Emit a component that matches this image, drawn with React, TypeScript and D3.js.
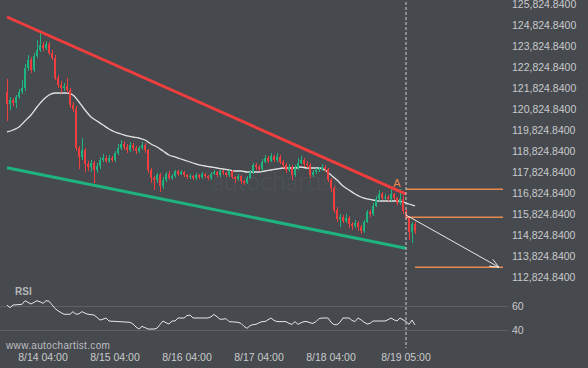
import * as d3 from "d3";

const W = 588;
const H = 368;
const HOUR = 3600e3;
const FONT = "'Liberation Sans', Arial, sans-serif";

// hourly candles, first one at 8/13 16:00 UTC
const firstCandle = Date.UTC(2025, 7, 13, 16);
const firstOpen = 121649;

const closes = [
  121077, 121268, 121125, 121411, 121649, 121839, 122792, 123172, 122696, 123363,
  123649, 123887, 123744, 123935, 123506, 123268, 122315, 121982, 121839, 121934,
  121744, 121030, 120839, 118982, 118553, 118887, 118220, 118077, 118268, 117935,
  118125, 118411, 118506, 118363, 118506, 118411, 118744, 118982, 119172, 119030,
  118887, 119125, 118982, 118839, 118982, 119125, 118887, 117935, 117554, 117458,
  117696, 117172, 117458, 117744, 117554, 117649, 117887, 117744, 117839, 117696,
  117601, 117649, 117554, 117696, 117601, 117744, 117649, 117554, 117744, 117839,
  117696, 117887, 117791, 117696, 117887, 117601, 117506, 117649, 117411, 117315,
  117554, 117839, 118173, 118077, 117982, 118315, 118506, 118363, 118601, 118411,
  118553, 118315, 118173, 117935, 118077, 117696, 118030, 118268, 118411, 118220,
  118173, 117696, 117839, 117935, 117982, 118077, 117982, 117458, 117077, 116030,
  115601, 115697, 115506, 115649, 115363, 115268, 115411, 115220, 115030, 115458,
  115935, 115840, 116220, 116554, 116792, 116601, 116649, 116554, 116792, 116601,
  116363, 116554, 115982, 115697, 114982, 115363, 115030,
];

const highs = [
  122270, 121400, 121380, 121520, 121800, 122220, 122980, 123420, 123300, 123500,
  124130, 124550, 124050, 124100, 124050, 123650, 123400, 122450, 122150, 122100,
  122300, 121850, 121150, 121000, 119100, 119450, 119000, 118350, 118400, 118380,
  118250, 118550, 118700, 118600, 118650, 118600, 118850, 119150, 119350, 119300,
  119150, 119250, 119200, 119100, 119100, 119250, 119200, 118950, 118050, 117650,
  117800, 117800, 117600, 117850, 117900, 117750, 117950, 117950, 117950, 117900,
  117750, 117750, 117700, 117800, 117750, 117850, 117800, 117700, 117850, 117950,
  117900, 117950, 117950, 117850, 117950, 117950, 117650, 117750, 117700, 117450,
  117650, 117950, 118250, 118250, 118150, 118450, 118650, 118600, 118750, 118650,
  118750, 118650, 118400, 118250, 118200, 118150, 118150, 118500, 118600, 118500,
  118350, 118250, 117950, 118050, 118100, 118200, 118150, 118050, 117550, 117150,
  116150, 115850, 115800, 115850, 115750, 115450, 115550, 115500, 115300, 115550,
  116050, 116050, 116350, 116700, 117000, 116900, 116800, 116750, 117050, 116850,
  116650, 117050, 116700, 116100, 115750, 115450, 115450,
];

const lows = [
  120290, 120790, 121000, 120890, 121300, 121550, 121700, 122650, 122550, 122600,
  123250, 123550, 123600, 123650, 123400, 123150, 122200, 121850, 121600, 121700,
  121600, 120900, 120700, 118850, 118000, 118400, 117850, 117900, 117850, 117300,
  117800, 118000, 118300, 118250, 118250, 118300, 118300, 118650, 118900, 118900,
  118750, 118800, 118850, 118700, 118750, 118900, 118750, 117800, 117300, 117000,
  117300, 116900, 117050, 117350, 117450, 117450, 117550, 117650, 117700, 117600,
  117500, 117500, 117450, 117450, 117500, 117500, 117550, 117450, 117450, 117700,
  117600, 117600, 117700, 117600, 117600, 117500, 117300, 117400, 117250, 117200,
  117250, 117500, 117750, 117950, 117900, 117900, 118250, 118250, 118300, 118300,
  118300, 118200, 118050, 117800, 117850, 117450, 117600, 117950, 118200, 118100,
  118050, 117550, 117600, 117750, 117850, 117900, 117850, 117350, 116900, 115900,
  115450, 115200, 115400, 115400, 115150, 115100, 115150, 115050, 114900, 114950,
  115400, 115700, 115750, 116150, 116450, 116500, 116500, 116450, 116450, 116500,
  116250, 116250, 115850, 115550, 114600, 114450, 114900,
];

// moving average, one value every 2 candles
const maStep = 2;
const maValues = [
  119744, 119839, 119982, 120268, 120553, 120934, 121268, 121506, 121601, 121601,
  121601, 121506, 121172, 120791, 120458, 120268, 120077, 119887, 119744, 119649,
  119554, 119506, 119458, 119363, 119173, 119030, 118839, 118649, 118554, 118458,
  118363, 118268, 118173, 118125, 118077, 118030, 117982, 117935, 117887, 117887,
  117839, 117839, 117839, 117887, 117935, 117982, 118030, 118030, 118030, 118077,
  118030, 118030, 118030, 117935, 117696, 117458, 117172, 116982, 116792, 116649,
  116554, 116506, 116458, 116458, 116458, 116458, 116411, 116315, 116220,
];

const rsiValues = [
  60.8, 58.6, 60.8, 61, 61.2, 61.4, 64.4, 63, 61.7, 63,
  64.4, 63.5, 62.2, 64.4, 64, 61, 58, 56, 54.5, 53.1,
  53.1, 53.1, 55.3, 53.1, 53.5, 55.3, 54, 53.1, 52.8, 52.5,
  50.5, 48.3, 49, 50, 47.5, 47.3, 47.2, 47, 46.9, 46.7,
  46.6, 46.4, 45, 42.5, 40.8, 43, 42, 40.8, 40.8, 40.8,
  41.5, 44.5, 47.5, 46, 45, 47.5, 47.5, 50, 50, 50,
  52, 52.5, 50, 50, 50, 50, 50, 50, 51, 53,
  51, 49, 49, 49.5, 47, 46.8, 46.6, 46.4, 45.5, 43,
  41.4, 43.5, 44.5, 44.7, 46, 47, 47, 48.5, 50, 48,
  47, 47, 47, 47, 45.5, 44.7, 47, 44.7, 46, 47,
  47, 46, 45.5, 47, 49.5, 50, 50, 50, 46.5, 44.5,
  44.4, 46.5, 50, 50, 50, 48, 47, 50, 48.5, 46.5,
  45, 45.5, 47.5, 47.5, 47.5, 47.5, 47.5, 48.5, 50, 48.5,
  47.5, 50, 48.5, 47, 44.7, 48.3, 44.2,
];

const timeTicks = [
  "2025-08-14T04:00Z", "2025-08-15T04:00Z", "2025-08-16T04:00Z",
  "2025-08-17T04:00Z", "2025-08-18T04:00Z", "2025-08-19T05:00Z",
];
const rsiTicks = [60, 40];

// pattern lines [time, price]
const resistance: [string, number][] = [["2025-08-13T16:00Z", 125220], ["2025-08-19T05:00Z", 116790]];
const support: [string, number][] = [["2025-08-13T16:00Z", 118044], ["2025-08-19T05:00Z", 114205]];
const levels = [
  { from: "2025-08-19T05:00Z", to: "2025-08-20T13:20Z", price: 117015 },
  { from: "2025-08-19T05:00Z", to: "2025-08-20T13:20Z", price: 115682 },
  { from: "2025-08-19T08:00Z", to: "2025-08-20T13:20Z", price: 113301 },
];
const forecast: [string, number][] = [["2025-08-19T05:00Z", 115790], ["2025-08-20T12:00Z", 113301]];
const pointA: [string, number] = ["2025-08-19T02:00Z", 117015];
const nowTime = "2025-08-19T05:00Z";

export default function App() {
  const x = d3
    .scaleUtc()
    .domain([new Date("2025-08-14T04:00Z"), new Date("2025-08-19T05:00Z")])
    .range([43, 406]);
  const y = d3.scaleLinear().domain([112824.84, 125824.84]).range([277.3, 4.3]);
  const yr = d3.scaleLinear().domain([40, 60]).range([330, 306]);

  const priceTicks = d3.range(0, 14).map((k) => 112824.84 + k * 1000);
  const fmtPrice = d3.format(",.4f");
  const fmtTime = d3.utcFormat("%-m/%d %H:%M");
  const tx = (s: string) => x(new Date(s));
  const tAt = (i: number) => new Date(firstCandle + i * HOUR);

  const candles = closes.map((c, i) => ({
    t: tAt(i),
    o: i === 0 ? firstOpen : closes[i - 1],
    c,
    h: highs[i],
    l: lows[i],
  }));

  const maLine = d3
    .line<number>()
    .x((_, k) => x(tAt(k * maStep)))
    .y((v) => y(v))
    .curve(d3.curveMonotoneX)(maValues);

  const rsiLine = d3
    .line<number>()
    .x((_, i) => x(tAt(i)))
    .y((v) => yr(v))(rsiValues);

  const seg = (pts: [string, number][]) =>
    d3.line<[string, number]>().x((d) => tx(d[0])).y((d) => y(d[1]))(pts);

  // forecast arrow head
  const fx1 = tx(forecast[0][0]), fy1 = y(forecast[0][1]);
  const fx2 = tx(forecast[1][0]), fy2 = y(forecast[1][1]);
  const ang = Math.atan2(fy2 - fy1, fx2 - fx1);
  const headLen = 10;
  const head = [ang + Math.PI - 0.4, ang + Math.PI + 0.4].map((a) => [
    fx2 + headLen * Math.cos(a),
    fy2 + headLen * Math.sin(a),
  ]);

  const green = "#1fb380";
  const red = "#f03e3e";
  const orange = "#e8894f";
  const labelCol = "#c9cacc";
  const nowX = tx(nowTime);

  return (
    <svg
      width={W}
      height={H}
      style={{ position: "fixed", left: 0, top: 0, background: "#46494e" }}
      fontFamily={FONT}
    >
      <rect width={W} height={H} fill="#46494e" />

      {/* faint watermark */}
      <text x={212} y={190} fontSize={25} fontFamily="Lato, sans-serif" fontWeight={300} fill="#4f5358">
        autochartist
      </text>

      {/* moving average */}
      <path d={maLine ?? ""} fill="none" stroke="#e2e2e2" strokeWidth={1.3} />

      {/* candles */}
      <g shapeRendering="crispEdges">
        {candles.map((d, i) => {
          const cx = x(d.t);
          const col = d.c >= d.o ? green : red;
          const top = y(Math.max(d.o, d.c));
          const bot = y(Math.min(d.o, d.c));
          return (
            <g key={i}>
              <rect x={cx - 0.5} y={y(d.h)} width={1} height={y(d.l) - y(d.h)} fill={col} />
              <rect x={cx - 1} y={top} width={2} height={Math.max(1, bot - top)} fill={col} />
            </g>
          );
        })}
      </g>

      {/* channel lines */}
      <path d={seg(resistance) ?? ""} stroke={red} strokeWidth={3} fill="none" />
      <path d={seg(support) ?? ""} stroke={green} strokeWidth={3} fill="none" />

      {/* target levels */}
      {levels.map((lv, i) => (
        <line
          key={i}
          x1={tx(lv.from)}
          x2={tx(lv.to)}
          y1={y(lv.price)}
          y2={y(lv.price)}
          stroke={orange}
          strokeWidth={1.5}
        />
      ))}

      {/* forecast arrow */}
      <line x1={fx1} y1={fy1} x2={fx2} y2={fy2} stroke="#e8e8e8" strokeWidth={1} />
      {head.map((p, i) => (
        <line key={i} x1={fx2} y1={fy2} x2={p[0]} y2={p[1]} stroke="#e8e8e8" strokeWidth={1} />
      ))}

      <text x={tx(pointA[0])} y={y(pointA[1]) - 2} textAnchor="middle" fontSize={11} fill={orange}>
        A
      </text>

      {/* price axis */}
      {priceTicks.map((p) => (
        <text key={p} x={512} y={y(p)} dy="0.35em" fontSize={10.5} fill={labelCol}>
          {fmtPrice(p)}
        </text>
      ))}

      {/* RSI panel */}
      {rsiTicks.map((v) => (
        <g key={v}>
          <line x1={0} x2={508} y1={yr(v)} y2={yr(v)} stroke="#5d6166" strokeWidth={1} shapeRendering="crispEdges" />
          <text x={512} y={yr(v)} dy="0.35em" fontSize={10.5} fill={labelCol}>
            {v}
          </text>
        </g>
      ))}
      <text x={15} y={295} fontSize={10} fontWeight="bold" fill="#b4b7ba">
        RSI
      </text>
      <path d={rsiLine ?? ""} fill="none" stroke="#e6e6e6" strokeWidth={1} />

      {/* now marker */}
      <line x1={nowX} x2={nowX} y1={2} y2={348} stroke="#cfcfcf" strokeWidth={1} strokeDasharray="3,2" />

      {/* time axis */}
      {timeTicks.map((s) => (
        <text key={s} x={tx(s)} y={361} textAnchor="middle" fontSize={10.5} fill={labelCol}>
          {fmtTime(new Date(s))}
        </text>
      ))}

      <text x={6} y={349} fontSize={10} letterSpacing={0.35} fill="#bdbfc1">
        www.autochartist.com
      </text>
    </svg>
  );
}
